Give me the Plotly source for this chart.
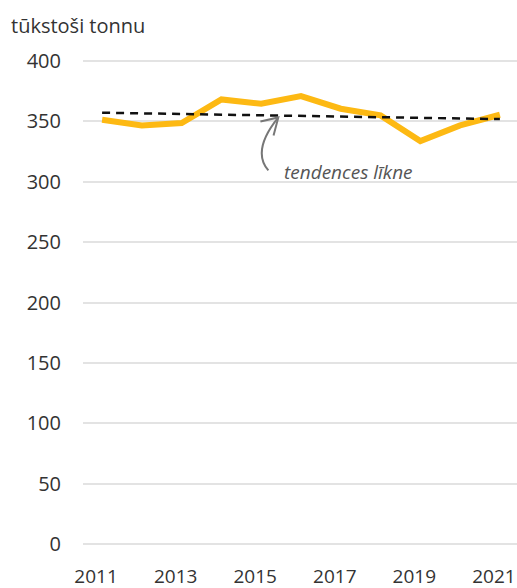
import plotly.graph_objects as go

years = [2011, 2012, 2013, 2014, 2015, 2016, 2017, 2018, 2019, 2020, 2021]
values = [351.4, 346.7, 348.6, 368.2, 364.6, 371.0, 360.5, 355.0, 333.7, 346.7, 355.5]
trend_years = [2011, 2021]
trend_values = [357.2, 351.9]
y_ticks = [0, 50, 100, 150, 200, 250, 300, 350, 400]
x_ticks = [2011, 2013, 2015, 2017, 2019, 2021]
unit_label = "tūkstoši tonnu"
trend_label = "tendences līkne"

FONT = "Open Sans, Noto Sans, sans-serif"

fig = go.Figure()
fig.add_trace(go.Scatter(x=years, y=values, mode="lines",
                         line=dict(color="#FDB913", width=6), hoverinfo="skip"))
fig.add_trace(go.Scatter(x=trend_years, y=trend_values, mode="lines",
                         line=dict(color="#111111", width=2.5, dash="8px,6px"), hoverinfo="skip"))

# curved arrow pointing at trend line
fig.add_shape(type="path", xref="x", yref="y",
              path="M 2015.18 309.4 Q 2014.75 325.6 2015.43 353.3",
              line=dict(color="#777777", width=2))
fig.add_shape(type="path", xref="x", yref="y",
              path="M 2014.98 350.0 L 2015.43 353.3 L 2015.31 338.4",
              line=dict(color="#777777", width=2))

fig.add_annotation(x=2015.53, y=307.8, xref="x", yref="y", text=trend_label,
                   showarrow=False, xanchor="left", yanchor="middle",
                   font=dict(family=FONT, size=19, color="#555555", style="italic"))

fig.update_layout(
    width=517, height=588,
    margin=dict(l=83, r=0, t=55, b=40),
    paper_bgcolor="white", plot_bgcolor="white",
    showlegend=False,
    font=dict(family=FONT, size=20, color="#333333"),
    title=dict(text=unit_label, x=11/517, xanchor="left", xref="container",
               y=1 - 26/588, yanchor="middle", yref="container",
               font=dict(family=FONT, size=20, color="#333333")),
)

fig.update_xaxes(range=[2010.52, 2021.43], tickmode="array", tickvals=x_ticks,
                 showgrid=False, zeroline=False, showline=False, ticks="",
                 tickfont=dict(size=19),
                 ticklabelstandoff=15, ticklabeloverflow="allow",
                 ticklabelshift=-6, automargin=False, fixedrange=True)
fig.update_yaxes(range=[-3.3, 405], tickmode="array", tickvals=y_ticks,
                 showgrid=True, gridcolor="#e3e3e3", gridwidth=2,
                 zeroline=False, showline=False, ticks="",
                 ticklabelstandoff=21, automargin=False, fixedrange=True)

fig.write_html("out.html", config={"displayModeBar": False},
               post_script="document.body.style.margin='0';document.body.style.overflow='hidden';")
